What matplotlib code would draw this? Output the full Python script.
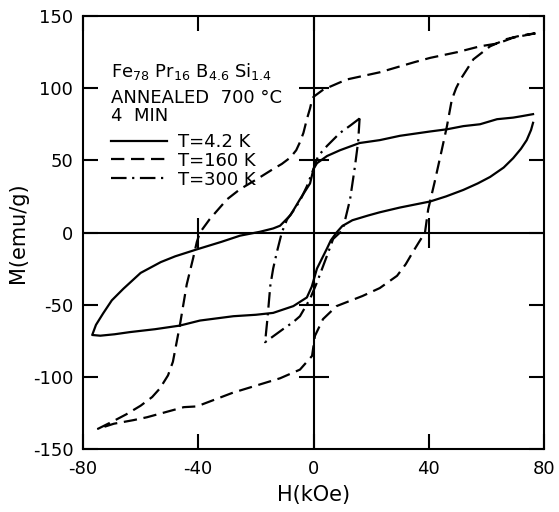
import numpy as np
import matplotlib
matplotlib.use("Agg")
import matplotlib.pyplot as plt

plt.rcParams['font.family'] = ['DejaVu Sans']
plt.rcParams['axes.unicode_minus'] = False
plt.rcParams['mathtext.fontset'] = 'dejavusans'

# ---- T = 4.2 K (solid) ----
h42_up = [76.2, 72, 69.3, 63.7, 57.8, 52, 46.3, 40.5, 30, 23, 16, 9.2, 4.7, 1.2, 0, -1.2, -4.7, -8,
          -11.6, -14, -18.6, -25.5, -32, -40.5, -48, -53, -60, -66, -70, -73, -75.5, -76.8]
m42_up = [82, 80.5, 79.6, 78.5, 75, 73.7, 71.5, 70, 67, 64, 62, 57, 53, 48, 44, 34, 23, 12,
          4.7, 2.8, 0.5, -2.2, -6.5, -11.7, -16.5, -20.5, -28, -39, -47, -56, -64, -71]
h42_dn = [-76.8, -74, -69, -63.7, -55, -46.4, -39.4, -27.8, -20, -14, -7, -2.3, -0.6, 1.2, 4.7,
          6, 8, 10, 13.5, 16, 19, 23, 30, 40.5, 46, 52, 57, 61.3, 66, 69.3, 72, 74, 75.5, 76.2]
m42_dn = [-71, -71.5, -70.5, -69, -67, -64.5, -61, -58, -57, -55.7, -51, -45, -37.5, -25, -11,
          -5.5, 0, 4.5, 8.5, 10, 11.8, 14, 17.3, 21.5, 25, 29.5, 34, 38.5, 45, 51.5, 58, 64, 71, 76]

# ---- T = 160 K (dashed) ----
h160_up = [77, 69.3, 64, 57.8, 50, 40.5, 35, 23, 11.5, 3.4, 0, -0.5, -1.2, -2.3, -3.5, -4.7, -6,
           -8, -11, -14, -19.6, -25.5, -30, -36, -39.4, -40.5, -41.8, -44, -46.4, -48.8, -50.5,
           -53.3, -56, -60, -65, -69.3, -74.8]
m160_up = [138, 135, 131, 129, 125, 121, 118, 111, 106, 99, 94, 92, 86, 78.5, 69, 62.6, 57,
           52, 47.5, 44, 37, 30, 23, 9.3, 0, -6.6, -18, -36, -64.5, -89.6, -99,
           -108, -114, -120, -126, -130.5, -136]
h160_dn = [-74.8, -69.3, -62.5, -57.8, -45, -40.5, -28, -11.6, -4.7, -0.5, 0.5, 3.3, 8, 17, 23,
           29, 32, 34.5, 36.5, 38.7, 39.8, 42, 44.5, 46.3, 48, 49.5, 51, 55.5, 61.3, 67, 72, 77]
m160_dn = [-136, -132.5, -130, -128, -121, -120.5, -111, -101, -95, -85.5, -71.6, -60, -51, -44,
           -38.5, -30, -22, -13.5, -7, 0, 16, 34.6, 57, 73.5, 92, 100, 106, 120, 129, 134, 136.5, 138]

# ---- T = 300 K (dash-dot) ----
h300_up = [16, 12.7, 9.2, 4.7, 1.6, 0, -2.3, -4.7, -7, -9.2, -11, -12.7, -14, -15, -16, -16.8]
m300_up = [79, 74, 69, 60, 53, 44, 32, 22, 15, 9, 0, -13.5, -25, -37, -60, -76]
h300_dn = [-16.8, -10.6, -7, -4.7, -1.2, 1.2, 4.7, 6.8, 9.2, 10.2, 12.7, 14.4, 15.5, 16]
m300_dn = [-76, -67, -62, -58, -46, -34.6, -16, -4.5, 0, 2.4, 23, 46, 63, 79]

xticks = [-80, -40, 0, 40, 80]
yticks = [-150, -100, -50, 0, 50, 100, 150]
inner_yticks = [-100, -50, 50, 100]
inner_xticks = [-40, 40]
labels = ["T=4.2 K", "T=160 K", "T=300 K"]

fig = plt.figure(figsize=(5.59, 5.12), dpi=100)
ax = fig.add_axes([83/559, 1-449/512, (544-83)/559, (449-16)/512])

lw = 1.6
dash = (0, (6, 3))
dashdot = (0, (7, 2.5, 1, 2.5))
l1, = ax.plot(h42_up + h42_dn, m42_up + m42_dn, color='black', lw=lw, ls='-')
l2, = ax.plot(h160_up + h160_dn, m160_up + m160_dn, color='black', lw=lw, ls=dash)
l3, = ax.plot(h300_up + h300_dn, m300_up + m300_dn, color='black', lw=lw, ls=dashdot)

ax.axhline(0, color='black', lw=1.5)
ax.axvline(0, color='black', lw=1.5)
ax.plot(np.zeros(len(inner_yticks)), inner_yticks, ls='none', marker='_', ms=22, mew=1.5, color='black')
ax.plot(inner_xticks, np.zeros(len(inner_xticks)), ls='none', marker='|', ms=22, mew=1.5, color='black')

ax.set_xlim(-80, 80)
ax.set_ylim(-150, 150)
ax.set_xticks(xticks)
ax.set_yticks(yticks)
ax.tick_params(direction='in', length=11, width=1.5, top=True, right=True, labelsize=13)
ax.tick_params(axis='x', pad=8)
ax.tick_params(axis='y', pad=7)
for s in ax.spines.values():
    s.set_linewidth(1.5)

ax.set_xlabel("H(kOe)", fontsize=15, labelpad=5)
ax.set_ylabel("M(emu/g)", fontsize=15, labelpad=3)

ax.text(0.061, 0.872, r"Fe$_{78}$ Pr$_{16}$ B$_{4.6}$ Si$_{1.4}$", transform=ax.transAxes,
        fontsize=13, ha='left', va='center')
ax.text(0.061, 0.790, "ANNEALED  700 °C\n4  MIN", transform=ax.transAxes, fontsize=13,
        ha='left', va='center', linespacing=0.95)

ax.legend([l1, l2, l3], labels, loc='upper left', bbox_to_anchor=(0.061, 0.73), frameon=False,
          fontsize=13, handlelength=3.1, handletextpad=0.6, labelspacing=0.05, borderpad=0,
          borderaxespad=0)

fig.savefig("out.png", dpi=100)
